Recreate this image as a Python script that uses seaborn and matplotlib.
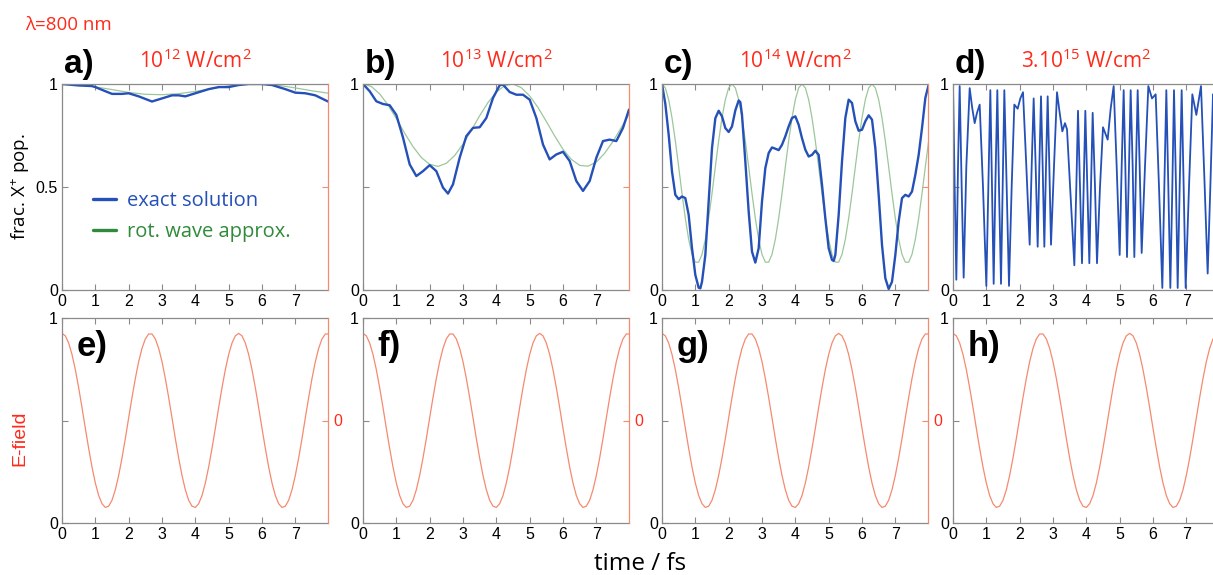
import numpy as np
import pandas as pd
import matplotlib
matplotlib.use("Agg")
import matplotlib.pyplot as plt
from matplotlib.lines import Line2D
import seaborn as sns

# ---------------- data ----------------
panel_labels_top = ["a)", "b)", "c)", "d)"]
panel_labels_bot = ["e)", "f)", "g)", "h)"]
intensity_base = ["10", "10", "10", "3.10"]
intensity_exp = ["12", "13", "14", "15"]
x_ticks = [0, 1, 2, 3, 4, 5, 6, 7]

# panel a
a_t = [0.0, 0.5, 0.9, 1.0, 1.3, 1.5, 1.8, 2.0, 2.3, 2.7, 3.0, 3.3, 3.5, 3.7, 4.0, 4.4,
       4.7, 5.0, 5.3, 5.6, 6.0, 6.3, 6.7, 7.0, 7.3, 7.6, 7.98]
a_exact = [1.0, 0.993, 0.99, 0.985, 0.965, 0.952, 0.952, 0.955, 0.94, 0.915, 0.93, 0.945,
           0.945, 0.94, 0.955, 0.975, 0.985, 0.985, 0.995, 1.0, 1.0, 0.995, 0.975, 0.958,
           0.955, 0.945, 0.915]
a_rwa_t = [0.0, 0.5, 1.0, 1.5, 2.0, 2.5, 3.0, 3.5, 4.0, 4.5, 5.0, 5.5, 6.0, 6.5, 7.0, 7.5, 8.0]
a_rwa = [1.0, 0.996, 0.986, 0.973, 0.959, 0.950, 0.948, 0.953, 0.964, 0.978, 0.991, 0.999,
         0.999, 0.993, 0.981, 0.967, 0.955]

# panel b
b_t = [0.0, 0.2, 0.4, 0.6, 0.8, 1.0, 1.2, 1.4, 1.6, 1.8, 2.0, 2.2, 2.4, 2.55, 2.7, 2.9,
       3.1, 3.3, 3.5, 3.7, 3.9, 4.1, 4.2, 4.4, 4.6, 4.8, 5.0, 5.2, 5.4, 5.6, 5.8, 6.0,
       6.2, 6.4, 6.6, 6.8, 7.0, 7.2, 7.4, 7.6, 7.8, 7.98]
b_exact = [1.0, 0.965, 0.916, 0.903, 0.897, 0.85, 0.74, 0.61, 0.553, 0.577, 0.606, 0.577,
           0.497, 0.468, 0.513, 0.642, 0.747, 0.787, 0.79, 0.835, 0.932, 0.994, 0.997,
           0.961, 0.948, 0.948, 0.924, 0.835, 0.706, 0.634, 0.658, 0.671, 0.626, 0.529,
           0.481, 0.529, 0.642, 0.723, 0.73, 0.723, 0.787, 0.876]
b_rwa_t = [0.0, 0.25, 0.5, 0.75, 1.0, 1.25, 1.5, 1.75, 2.0, 2.25, 2.5, 2.75, 3.0, 3.25,
           3.5, 3.75, 4.0, 4.25, 4.5, 4.75, 5.0, 5.25, 5.5, 5.75, 6.0, 6.25, 6.5, 6.75,
           7.0, 7.25, 7.5, 7.75, 8.0]
b_rwa = [1.0, 0.988, 0.952, 0.898, 0.832, 0.761, 0.696, 0.643, 0.610, 0.600, 0.615, 0.653,
         0.708, 0.775, 0.846, 0.910, 0.961, 0.992, 1.0, 0.982, 0.942, 0.886, 0.818, 0.748,
         0.683, 0.634, 0.605, 0.601, 0.621, 0.664, 0.721, 0.789, 0.857]

# panel c
c_t = [0.0, 0.1, 0.2, 0.3, 0.4, 0.5, 0.6, 0.7, 0.8, 0.9, 1.0, 1.1, 1.15, 1.2, 1.3, 1.4,
       1.5, 1.6, 1.7, 1.8, 1.9, 2.0, 2.1, 2.2, 2.3, 2.35, 2.4, 2.5, 2.6, 2.7, 2.8, 2.9,
       3.0, 3.1, 3.2, 3.3, 3.4, 3.5, 3.6, 3.7, 3.8, 3.9, 4.0, 4.1, 4.2, 4.3, 4.4, 4.5,
       4.6, 4.7, 4.8, 4.9, 5.0, 5.1, 5.15, 5.2, 5.3, 5.4, 5.5, 5.6, 5.7, 5.8, 5.9, 6.0,
       6.1, 6.2, 6.3, 6.4, 6.5, 6.6, 6.7, 6.8, 6.9, 7.0, 7.1, 7.2, 7.3, 7.4, 7.5, 7.6,
       7.7, 7.8, 7.9, 8.0]
c_exact = [1.0, 0.903, 0.754, 0.575, 0.462, 0.441, 0.454, 0.446, 0.365, 0.203, 0.073,
           0.011, 0.008, 0.04, 0.17, 0.43, 0.689, 0.834, 0.87, 0.843, 0.786, 0.767, 0.794,
           0.872, 0.92, 0.912, 0.85, 0.624, 0.381, 0.186, 0.133, 0.203, 0.43, 0.592, 0.665,
           0.692, 0.686, 0.679, 0.705, 0.746, 0.794, 0.835, 0.843, 0.802, 0.737, 0.681,
           0.648, 0.656, 0.676, 0.656, 0.511, 0.348, 0.203, 0.146, 0.141, 0.17, 0.365,
           0.624, 0.835, 0.924, 0.908, 0.819, 0.773, 0.778, 0.819, 0.848, 0.827, 0.689,
           0.462, 0.219, 0.057, 0.005, 0.04, 0.17, 0.332, 0.446, 0.462, 0.454, 0.478,
           0.559, 0.656, 0.786, 0.932, 0.997]
c_rwa_t = [round(0.1 * k, 1) for k in range(81)]
c_rwa = [1.0, 0.981, 0.924, 0.836, 0.724, 0.598, 0.468, 0.348, 0.246, 0.173, 0.135,
         0.135, 0.173, 0.246, 0.348, 0.468, 0.598, 0.724, 0.836, 0.924, 0.981,
         1.0, 0.981, 0.924, 0.836, 0.724, 0.598, 0.468, 0.348, 0.246, 0.173, 0.135,
         0.135, 0.173, 0.246, 0.348, 0.468, 0.598, 0.724, 0.836, 0.924, 0.981,
         1.0, 0.981, 0.924, 0.836, 0.724, 0.598, 0.468, 0.348, 0.246, 0.173, 0.135,
         0.135, 0.173, 0.246, 0.348, 0.468, 0.598, 0.724, 0.836, 0.924, 0.981,
         1.0, 0.981, 0.924, 0.836, 0.724, 0.598, 0.468, 0.348, 0.246, 0.173, 0.135,
         0.135, 0.173, 0.246, 0.348, 0.468, 0.598, 0.724]

# panel d
d_t = [0.00, 0.05, 0.10, 0.15, 0.20, 0.26, 0.32, 0.40, 0.50, 0.58, 0.65, 0.72, 0.80,
       0.90, 1.00, 1.06, 1.12, 1.17, 1.22, 1.27, 1.33, 1.38, 1.44, 1.49, 1.54, 1.61,
       1.68, 1.76, 1.84, 1.94, 2.02, 2.10, 2.20, 2.30, 2.36, 2.42, 2.48, 2.54, 2.59,
       2.64, 2.69, 2.74, 2.79, 2.84, 2.89, 2.94, 3.03, 3.12, 3.20, 3.28, 3.36, 3.42,
       3.53, 3.64, 3.70, 3.75, 3.81, 3.87, 3.92, 3.97, 4.03, 4.09, 4.14, 4.19, 4.26,
       4.32, 4.41, 4.50, 4.57, 4.64, 4.73, 4.82, 4.91, 5.00, 5.06, 5.12, 5.17, 5.22,
       5.28, 5.33, 5.39, 5.44, 5.49, 5.54, 5.60, 5.66, 5.76, 5.86, 5.97, 6.08, 6.18,
       6.28, 6.34, 6.40, 6.46, 6.52, 6.58, 6.63, 6.69, 6.74, 6.80, 6.86, 6.92, 6.98,
       7.08, 7.18, 7.30, 7.44, 7.54, 7.64, 7.72, 7.80, 7.90, 8.00]
d_exact = [1.00, 0.50, 0.05, 0.60, 0.99, 0.50, 0.06, 0.60, 0.98, 0.88, 0.81, 0.86, 0.90,
           0.50, 0.02, 0.50, 0.97, 0.50, 0.03, 0.50, 0.97, 0.50, 0.03, 0.50, 0.97, 0.50,
           0.02, 0.50, 0.90, 0.88, 0.93, 0.96, 0.60, 0.22, 0.60, 0.93, 0.60, 0.21, 0.60,
           0.94, 0.60, 0.21, 0.60, 0.94, 0.60, 0.22, 0.60, 0.96, 0.86, 0.77, 0.81, 0.78,
           0.45, 0.12, 0.50, 0.87, 0.50, 0.13, 0.50, 0.87, 0.50, 0.13, 0.50, 0.86, 0.50,
           0.13, 0.50, 0.79, 0.76, 0.73, 0.88, 0.99, 0.60, 0.17, 0.60, 0.97, 0.60, 0.16,
           0.60, 0.97, 0.60, 0.16, 0.60, 0.97, 0.60, 0.18, 0.60, 0.99, 0.93, 0.95, 0.50,
           0.01, 0.50, 0.97, 0.50, 0.01, 0.50, 0.97, 0.50, 0.01, 0.50, 0.97, 0.50, 0.01,
           0.50, 0.95, 0.85, 0.99, 0.55, 0.08, 0.50, 0.95, 0.60, 0.20]

# E-field (same in e-h), plotted on 0..1 frame; zero at 0.5
e_t = [round(0.1 * k, 1) for k in range(81)]
e_field = [0.925, 0.913, 0.878, 0.822, 0.748, 0.660, 0.563, 0.462, 0.364, 0.273, 0.195,
           0.134, 0.094, 0.076, 0.082, 0.111, 0.162, 0.232, 0.317, 0.412, 0.513, 0.612,
           0.705, 0.787, 0.852, 0.898, 0.922, 0.922, 0.898, 0.852, 0.787, 0.705, 0.612,
           0.513, 0.412, 0.317, 0.232, 0.162, 0.111, 0.082, 0.076, 0.094, 0.134, 0.195,
           0.273, 0.364, 0.462, 0.563, 0.660, 0.748, 0.822, 0.878, 0.913,
           0.925, 0.913, 0.878, 0.822, 0.748, 0.660, 0.563, 0.462, 0.364, 0.273, 0.195,
           0.134, 0.094, 0.076, 0.082, 0.111, 0.162, 0.232, 0.317, 0.412, 0.513, 0.612,
           0.705, 0.787, 0.852, 0.898, 0.922, 0.922]

exact_sets = [(a_t, a_exact), (b_t, b_exact), (c_t, c_exact), (d_t, d_exact)]
rwa_sets = [(a_rwa_t, a_rwa), (b_rwa_t, b_rwa), (c_rwa_t, c_rwa), None]

# ---------------- style ----------------
sns.set_theme(style="white")
plt.rcParams["font.family"] = ["Liberation Sans", "DejaVu Sans"]
plt.rcParams["axes.linewidth"] = 0.9

BLUE = "#2450b8"
GREEN_LINE = "#9cc79a"
GREEN_TXT = "#2f8a3a"
SALMON = "#f58a70"
RED = "#ff2a1a"
GRAY = "#8a8a8a"
TITLE_FONT = ["Open Sans", "DejaVu Sans"]

W, H = 1213, 575
fig = plt.figure(figsize=(W / 100, H / 100), dpi=100)

col_left = [62, 363, 662, 953]
ax_w = 266
top_row = (84, 290)
bot_row = (318, 523)


def make_axes(left, row):
    t, b = row
    return fig.add_axes([left / W, 1 - b / H, ax_w / W, (b - t) / H])


def style_axes(ax, show_half, right_label):
    ax.set_xlim(0, 7.98)
    ax.set_ylim(0, 1)
    ax.set_xticks(x_ticks)
    ax.set_xticklabels([str(v) for v in x_ticks])
    ax.set_yticks([0, 0.5, 1])
    ax.set_yticklabels(["0", "0.5" if show_half else "", "1"])
    ax.tick_params(axis="both", direction="in", length=4, width=0.8, color=GRAY,
                   labelsize=11.5, labelcolor="black", top=True, bottom=True,
                   left=True, right=False, pad=3)
    ax.set_xlabel("")
    ax.set_ylabel("")
    for s in ["left", "top", "bottom"]:
        ax.spines[s].set_color(GRAY)
        ax.spines[s].set_linewidth(0.9)
    ax.spines["right"].set_visible(False)
    tw = ax.twinx()
    tw.set_ylim(0, 1)
    tw.set_yticks([0.5])
    tw.set_yticklabels([right_label])
    tw.tick_params(axis="y", direction="in", length=4, width=0.8, color=SALMON,
                   labelsize=11.5, labelcolor=RED, pad=4)
    for s in ["left", "top", "bottom"]:
        tw.spines[s].set_visible(False)
    tw.spines["right"].set_color(SALMON)
    tw.spines["right"].set_linewidth(0.9)
    tw.grid(False)
    return tw


# top row
for i in range(4):
    ax = make_axes(col_left[i], top_row)
    if rwa_sets[i] is not None:
        rt, rv = rwa_sets[i]
        sns.lineplot(x=rt, y=rv, ax=ax, color=GREEN_LINE, linewidth=0.9,
                     sort=False, estimator=None)
    et, ev = exact_sets[i]
    sns.lineplot(x=et, y=ev, ax=ax, color=BLUE, linewidth=1.7 if i < 3 else 1.3,
                 sort=False, estimator=None)
    style_axes(ax, show_half=(i == 0), right_label="")
    cx = (col_left[i] + ax_w / 2) / W
    fig.text(cx, 1 - 61 / H,
             r"$\mathregular{" + intensity_base[i] + "^{" + intensity_exp[i] + "}}$ W/cm$\mathregular{^2}$",
             color=RED, fontsize=15, ha="center", va="center", family=TITLE_FONT)
    fig.text((col_left[i] + 2) / W, 1 - 64 / H, panel_labels_top[i], fontsize=24,
             fontweight="bold", color="black", ha="left", va="center")
    if i == 0:
        handles = [Line2D([0], [0], color=BLUE, lw=2.4),
                   Line2D([0], [0], color=GREEN_TXT, lw=2.4)]
        leg = ax.legend(handles, ["exact solution", "rot. wave approx."],
                        loc="upper left", bbox_to_anchor=(0.05, 0.57), frameon=False,
                        handlelength=1.1, handletextpad=0.55, labelspacing=0.55,
                        prop={"family": TITLE_FONT, "size": 14.5})
        leg.get_texts()[0].set_color(BLUE)
        leg.get_texts()[1].set_color(GREEN_TXT)

# bottom row
for i in range(4):
    ax = make_axes(col_left[i], bot_row)
    sns.lineplot(x=e_t, y=e_field, ax=ax, color=SALMON, linewidth=0.9,
                 sort=False, estimator=None)
    style_axes(ax, show_half=False, right_label="0" if i < 3 else "")
    ax.text(0.055, 0.86, panel_labels_bot[i], transform=ax.transAxes, fontsize=25,
            fontweight="bold", color="black", ha="left", va="center")

# global texts
fig.text(25 / W, 1 - 25 / H, "λ=800 nm", color=RED, fontsize=13.5, ha="left",
         va="center", family=TITLE_FONT)
fig.text(21 / W, 1 - 187 / H, "frac. X$\mathregular{^{+}}$ pop.", color="black",
         fontsize=13.5, rotation=90, ha="center", va="center", family=TITLE_FONT)
fig.text(20 / W, 1 - 438 / H, "E-field", color=RED, fontsize=14, rotation=90,
         ha="center", va="center")
fig.text(640 / W, 1 - 564 / H, "time / fs", color="black", fontsize=17.5,
         ha="center", va="center", family=TITLE_FONT)

fig.savefig("out.png", dpi=100)
